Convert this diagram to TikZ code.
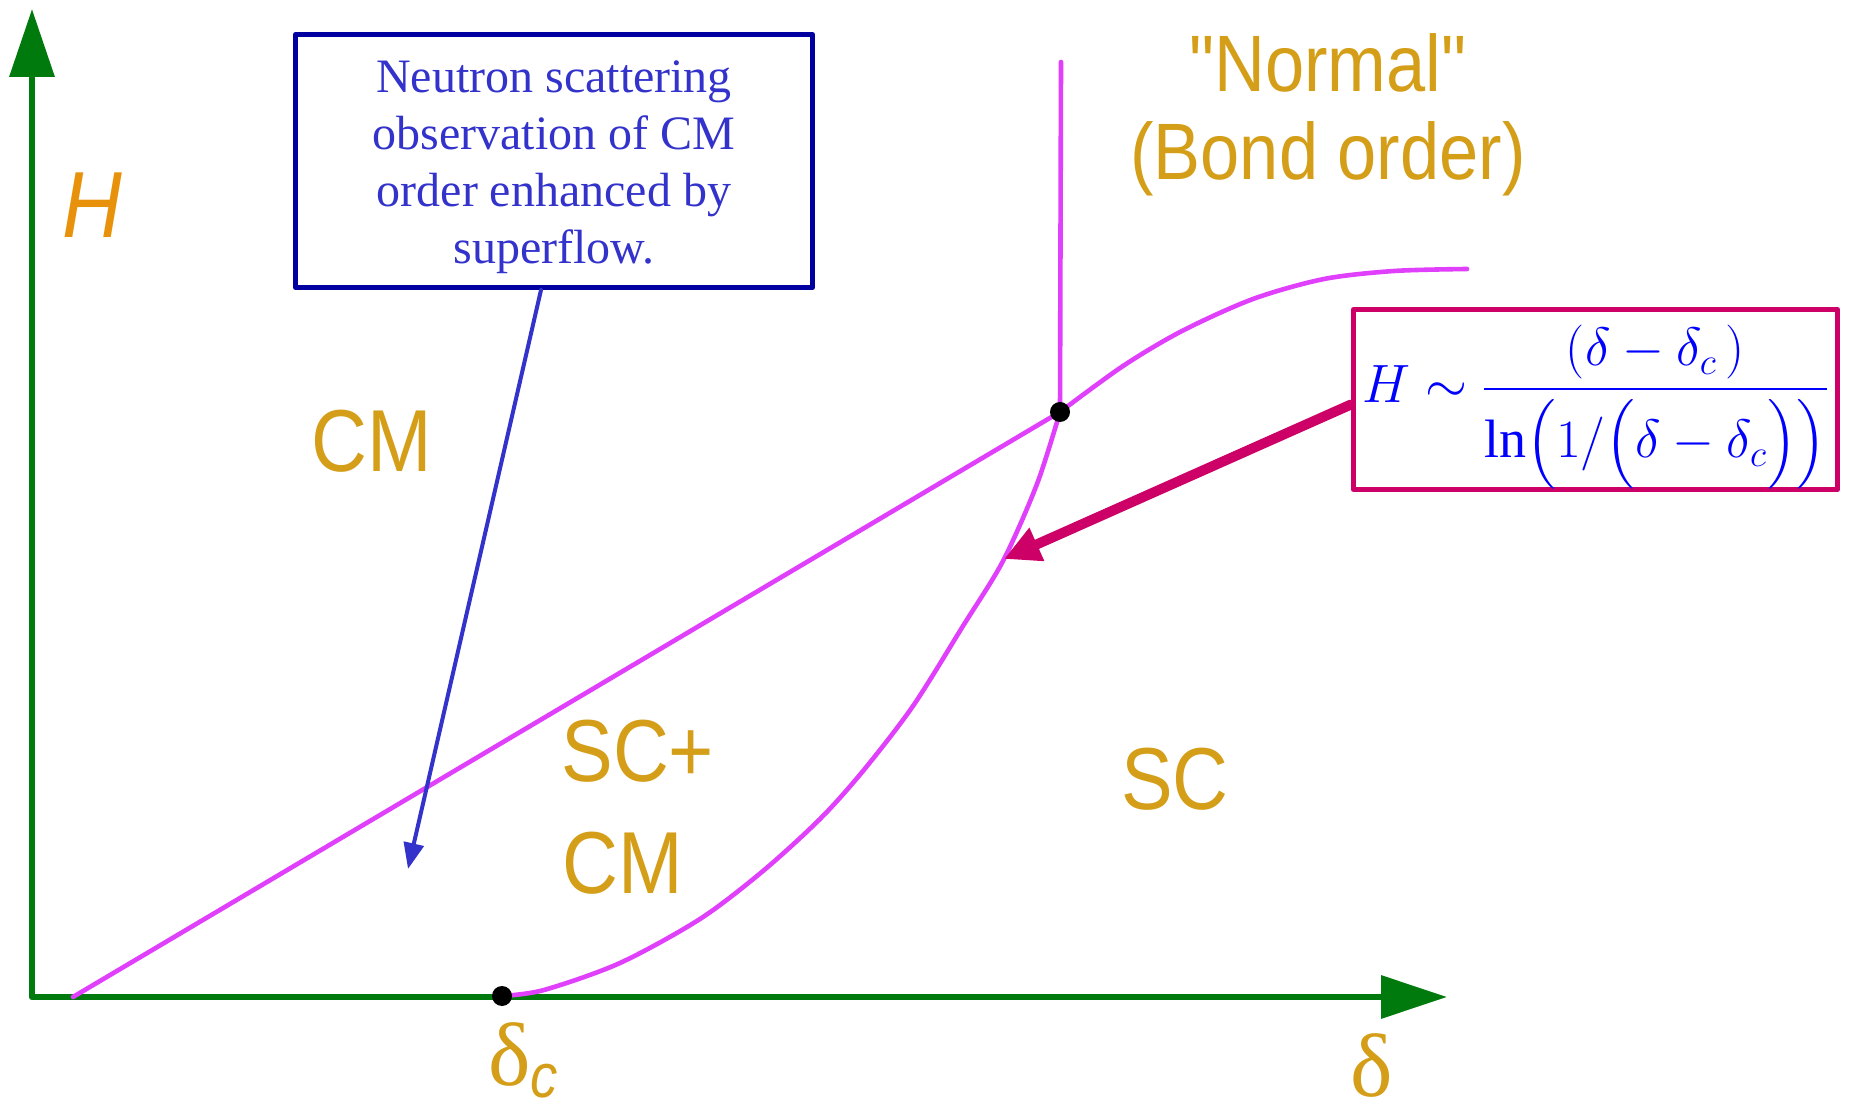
\RequirePackage{fix-cm}
\documentclass[tikz,border=0pt]{standalone}
\usepackage{amsmath}
\usepackage{fontspec}
\setmainfont{Liberation Serif}
\newfontfamily\phasefont[FakeStretch=0.88]{Liberation Sans}
\usetikzlibrary{arrows.meta}

\definecolor{axisgreen}{RGB}{0,122,12}
\definecolor{phasegold}{RGB}{212,158,24}
\definecolor{fieldorange}{RGB}{232,146,12}
\definecolor{linemagenta}{RGB}{224,64,251}
\definecolor{notenavy}{RGB}{0,0,160}
\definecolor{noteblue}{RGB}{51,51,204}
\definecolor{formulared}{RGB}{204,0,102}
\definecolor{formulablue}{RGB}{0,0,255}

\begin{document}
\begin{tikzpicture}[x=.5pt, y=-.5pt, line cap=round, line join=round,
  phase/.style={text=phasegold, font=\phasefont\fontsize{44}{53}\selectfont, inner sep=0pt},
  boundary/.style={linemagenta, line width=2.3pt},
  dot/.style={circle, fill=black, inner sep=0pt, minimum size=10pt}]

\useasboundingbox (0,0) rectangle (1853,1111);

%% Axes.

\draw[axisgreen, line width=3.3pt,
  {Triangle[length=34pt,width=22pt]}-{Triangle[length=33pt,width=21pt]}]
  (32,9) -- (32,997) -- (1447,997);

%% Phase boundaries.

\coordinate (tp) at (1060,412);
\coordinate (dc) at (502,996);
\coordinate (normaltop) at (1061,62);
\coordinate (cmfoot) at (73,997);

\draw[boundary] (cmfoot) -- (tp);
\draw[boundary] (normaltop) -- (tp);
\draw[boundary] plot[smooth, tension=.5] coordinates {(502,996) (544,990) (620,963)
  (700,919) (763,871) (820,819) (863,771) (913,706) (963,626) (1003,561)
  (1037,484) (1060,412)};
\draw[boundary] plot[smooth] coordinates {(1060,412) (1123,366) (1182,331)
  (1253,299) (1324,279) (1394,271) (1467,269)};

\node[dot] (tpdot) at (tp) {};
\node[dot] (dcdot) at (dc) {};

%% Phase names.

\node[phase, anchor=base] (cm) at (372,472) {CM};
\node[phase, anchor=base west] (scplus) at (561,782) {SC+};
\node[phase, anchor=base west] (sccm) at (562,893) {CM};
\node[phase, anchor=base] (sc) at (1175,810) {SC};
\node[phase, font=\phasefont\fontsize{40}{48}\selectfont, anchor=base] (normal) at (1328,92) {"Normal"};
\node[phase, font=\phasefont\fontsize{40}{48}\selectfont, anchor=base] (bond) at (1328,180) {(Bond order)};

%% Axis labels.

\node[text=fieldorange, font=\phasefont\itshape\fontsize{47}{56}\selectfont, inner sep=0pt, anchor=base] (hlabel) at (92,238) {H};
\node[text=phasegold, font=\fontsize{45}{54}\selectfont, inner sep=0pt, anchor=base] (deltac) at (523,1085)
  {δ\raisebox{-6pt}{\phasefont\itshape\fontsize{31}{36}\selectfont c}};
\node[text=phasegold, font=\fontsize{45}{54}\selectfont, inner sep=0pt, anchor=base] (delta) at (1372,1096) {δ};

%% Boxes and arrows.

\node[draw=notenavy, line width=2.5pt, text=noteblue, font=\fontsize{24}{28.5}\selectfont,
  align=center, minimum width=258.5pt, minimum height=126.5pt, inner sep=0pt]
  (note) at (554,161) {\rule{0pt}{22.5pt}Neutron scattering\\observation of CM\\order enhanced by\\superflow.};
\node[draw=formulared, line width=2.5pt, text=formulablue, font=\fontsize{27}{26}\selectfont,
  minimum width=242pt, minimum height=90pt, inner sep=0pt]
  (formula) at (1595.5,399.5)
  {\raisebox{-3pt}{\smash{$\displaystyle H\sim\frac{(\delta-\delta_c\,)}{\medmuskip=2mu
    \ln\Bigl(1/\Bigl(\delta-\delta_c\Bigr)\Bigr)}$}}};

\coordinate (notetip) at (408,869);
\coordinate (formulatip) at (1004,559);

\draw[noteblue, line width=2pt, -{Triangle[length=13pt,width=10pt]}]
  ([xshift=-6.5pt]note.south) -- (notetip);
\draw[formulared, line width=5pt, -{Triangle[length=18pt,width=17pt]}]
  ([yshift=-2.5pt]formula.west) -- (formulatip);

\end{tikzpicture}
\end{document}
